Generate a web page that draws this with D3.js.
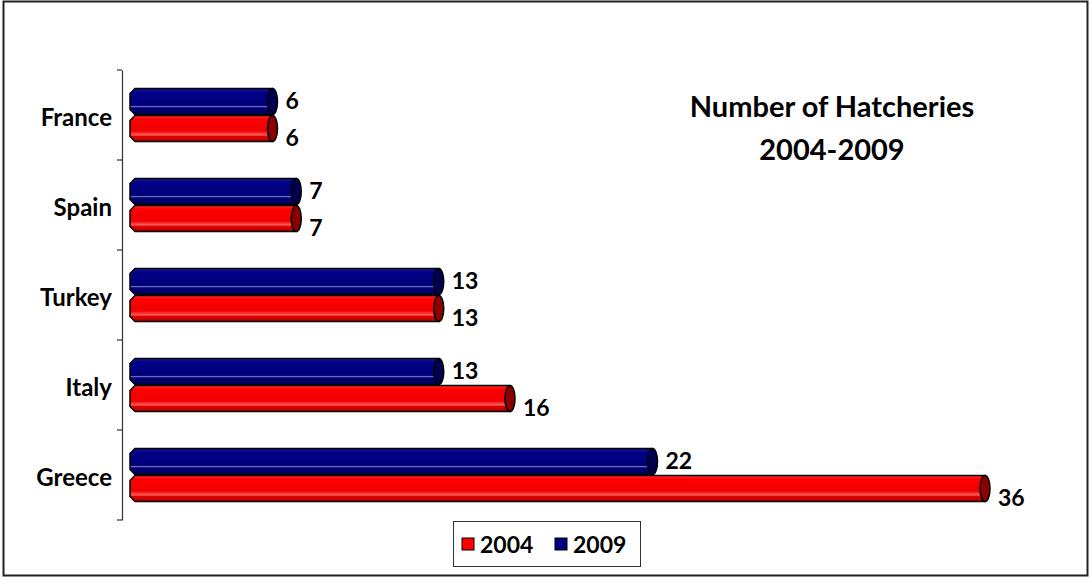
<!DOCTYPE html>
<html>
<head>
<meta charset="utf-8">
<script src="https://cdn.jsdelivr.net/npm/d3@7"></script>
<style>
  body { margin: 0; background: #fff; }
  text { font-family: Lato, "Open Sans", sans-serif; font-weight: bold; fill: #000; }
</style>
</head>
<body>
<div id="chart"></div>
<script>
// chart data
var countries = ["France", "Spain", "Turkey", "Italy", "Greece"];
var years = ["2009", "2004"];
var values2009 = [6, 7, 13, 13, 22];
var values2004 = [6, 7, 13, 16, 36];
var titleLines = ["Number of Hatcheries", "2004-2009"];

var W = 1090, H = 578;
var svg = d3.select("#chart").append("svg")
    .attr("width", W)
    .attr("height", H);

// gradients for the cylinder look
var defs = svg.append("defs");
function grad(id, stops) {
    var g = defs.append("linearGradient").attr("id", id)
        .attr("x1", 0).attr("y1", 0).attr("x2", 0).attr("y2", 1);
    stops.forEach(function(s) {
        g.append("stop").attr("offset", s[0]).attr("stop-color", s[1]);
    });
}
grad("gBlue", [[0, "#1a1a9a"], [0.15, "#000088"], [0.65, "#00007a"], [0.7, "#7a7ac0"], [0.74, "#000078"], [1, "#00005a"]]);
grad("gRed", [[0, "#ff3030"], [0.15, "#ff0000"], [0.6, "#f00000"], [0.75, "#ff6060"], [0.8, "#e00000"], [1, "#b00000"]]);

// outer frame
svg.append("rect")
    .attr("x", 3.5).attr("y", 1.5)
    .attr("width", 1084).attr("height", 574)
    .attr("fill", "none")
    .attr("stroke", "#222")
    .attr("stroke-width", 2);

var x = d3.scaleLinear().domain([0, 36]).range([130, 985]);
var y = d3.scaleBand().domain(countries).range([70, 520]);
var sub = d3.scaleBand().domain(years).range([18, 72]);

// category axis
var yAxis = d3.axisLeft(y).tickSize(0).tickPadding(10);
var ax = svg.append("g").attr("transform", "translate(122,0)").call(yAxis);
ax.select(".domain").attr("stroke", "#333").attr("stroke-width", 1.2);
ax.selectAll("text")
    .attr("font-size", 24)
    .attr("font-family", "Lato, sans-serif")
    .attr("font-weight", "bold")
    .attr("dy", "0.45em");
// boundary tick marks
svg.append("g").selectAll("line")
    .data(countries.concat(["end"]))
    .enter().append("line")
    .attr("x1", 117).attr("x2", 122)
    .attr("y1", function(d, i) { return 70 + i * y.step(); })
    .attr("y2", function(d, i) { return 70 + i * y.step(); })
    .attr("stroke", "#333").attr("stroke-width", 1.2);

// rows of bar data
var rows = [];
countries.forEach(function(c, i) {
    rows.push({ country: c, year: "2009", value: values2009[i] });
    rows.push({ country: c, year: "2004", value: values2004[i] });
});

function barPath(d) {
    var x0 = x(0), x1 = x(d.value);
    var y0 = y(d.country) + sub(d.year) + 0.5, h = sub.bandwidth() - 1;
    var b = 5;
    return "M" + (x0 + b) + "," + y0 +
        "L" + x1 + "," + y0 +
        "L" + x1 + "," + (y0 + h) +
        "L" + (x0 + b) + "," + (y0 + h) +
        "L" + x0 + "," + (y0 + h - b) +
        "L" + x0 + "," + (y0 + b) + "Z";
}

var bars = svg.append("g").selectAll("g.bar")
    .data(rows)
    .enter().append("g").attr("class", "bar");

bars.append("path")
    .attr("d", barPath)
    .attr("fill", function(d) { return d.year === "2004" ? "url(#gRed)" : "url(#gBlue)"; })
    .attr("stroke", "#000")
    .attr("stroke-width", 1.5);

// cylinder cap
bars.append("ellipse")
    .attr("cx", function(d) { return x(d.value); })
    .attr("cy", function(d) { return y(d.country) + sub(d.year) + sub.bandwidth() / 2; })
    .attr("rx", 5)
    .attr("ry", function() { return sub.bandwidth() / 2 - 0.5; })
    .attr("fill", function(d) { return d.year === "2004" ? "#8a0000" : "#000050"; })
    .attr("stroke", "#000")
    .attr("stroke-width", 1.5);

// value labels
bars.append("text")
    .attr("x", function(d) { return x(d.value) + 13; })
    .attr("y", function(d) {
        var c = y(d.country) + sub(d.year) + sub.bandwidth() / 2;
        return d.year === "2004" ? c + 9 : c - 1;
    })
    .attr("dy", "0.36em")
    .attr("font-size", 23)
    .text(function(d) { return d.value; });

// title
svg.append("g").selectAll("text")
    .data(titleLines)
    .enter().append("text")
    .attr("x", 832)
    .attr("y", function(d, i) { return 107 + i * 43; })
    .attr("dy", "0.36em")
    .attr("text-anchor", "middle")
    .attr("font-size", 29)
    .text(function(d) { return d; });

// legend
var legend = svg.append("g");
legend.append("rect")
    .attr("x", 453.5).attr("y", 521.5)
    .attr("width", 187).attr("height", 45)
    .attr("fill", "#fff").attr("stroke", "#333").attr("stroke-width", 1);
var legendItems = [
    { label: "2004", color: "#ff0000", lx: 462 },
    { label: "2009", color: "#000080", lx: 555 }
];
legendItems.forEach(function(it) {
    legend.append("rect")
        .attr("x", it.lx).attr("y", 538)
        .attr("width", 12).attr("height", 12)
        .attr("fill", it.color).attr("stroke", "#000").attr("stroke-width", 1);
    legend.append("text")
        .attr("x", it.lx + 18).attr("y", 545)
        .attr("dy", "0.36em")
        .attr("font-size", 23)
        .text(it.label);
});
</script>
</body>
</html>
